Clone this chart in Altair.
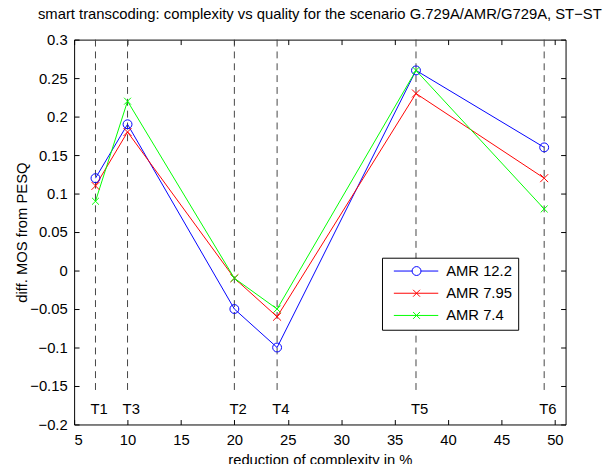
import altair as alt
import pandas as pd

# ---- data ----
x_pos = [7, 10, 20, 24, 37, 49]
t_labels = ["T1", "T3", "T2", "T4", "T5", "T6"]
amr_122 = [0.12, 0.19, -0.05, -0.10, 0.26, 0.16]
amr_795 = [0.11, 0.18, -0.01, -0.06, 0.23, 0.12]
amr_74 = [0.09, 0.22, -0.01, -0.05, 0.26, 0.08]
series_names = ["AMR 12.2", "AMR 7.95", "AMR 7.4"]
series_colors = ["#0000ff", "#ff0000", "#00ff00"]
marker_line_top = 0.3
marker_line_bottom = -0.16
marker_label_y = -0.18
x_domain = [5, 51]
y_domain = [-0.2, 0.3]
x_ticks = [5, 10, 15, 20, 25, 30, 35, 40, 45, 50]
y_ticks = [-0.2, -0.15, -0.1, -0.05, 0, 0.05, 0.1, 0.15, 0.2, 0.25, 0.3]
title_text = "smart transcoding: complexity vs quality for the scenario G.729A/AMR/G729A, ST\u2212ST"
x_title = "reduction of complexity in %"
y_title = "diff. MOS from PESQ"

# ---- tables ----
rows = []
for name, vals in zip(series_names, [amr_122, amr_795, amr_74]):
    for xv, yv in zip(x_pos, vals):
        rows.append({"series": name, "x": xv, "v": yv})
df = pd.DataFrame(rows)
df_t = pd.DataFrame({"x": x_pos, "label": t_labels,
                     "top": [marker_line_top] * len(x_pos),
                     "bottom": [marker_line_bottom] * len(x_pos),
                     "ly": [marker_label_y] * len(x_pos)})

FONT = "Liberation Sans"
W, H = 498, 390

xs = alt.Scale(domain=x_domain, nice=False, zero=False)
ys = alt.Scale(domain=y_domain, nice=False, zero=False)
cs = alt.Scale(domain=series_names, range=series_colors)

X_PATH = "M-1,-1L1,1M-1,1L1,-1"
LEG_CIRCLE = ("M-0.3,0L3.4,0M5.2,0L8.7,0"
              "M5.2,0A0.9,0.9 0 1 1 3.4,0A0.9,0.9 0 1 1 5.2,0")
LEG_X = "M-0.3,0L8.7,0M3.6,-0.7L5.0,0.7M3.6,0.7L5.0,-0.7"

common_axis = dict(domain=False, grid=False, tickSize=5, offset=-5,
                   tickColor="black", tickWidth=1)

rules = alt.Chart(df_t).mark_rule(strokeDash=[7, 5], color="#444", strokeWidth=1).encode(
    x=alt.X("x:Q", scale=xs, axis=None),
    y=alt.Y("top:Q", scale=ys, axis=None),
    y2="bottom:Q",
)

labels = alt.Chart(df_t).mark_text(align="left", baseline="middle", dx=-5,
                                   font=FONT, fontSize=15, color="black").encode(
    x=alt.X("x:Q", scale=xs, axis=None),
    y=alt.Y("ly:Q", scale=ys, axis=None),
    text="label:N",
)

lines = alt.Chart(df).mark_line(strokeWidth=1).encode(
    x=alt.X("x:Q", scale=xs, axis=alt.Axis(orient="bottom", values=x_ticks, format="d",
                                            title=x_title, labelPadding=8, titlePadding=6,
                                            **common_axis)),
    y=alt.Y("v:Q", scale=ys, axis=alt.Axis(orient="left", values=y_ticks, format=".2~f",
                                            title=y_title, labelPadding=7, titlePadding=0,
                                            **common_axis)),
    color=alt.Color("series:N", scale=cs, legend=None),
)

points = alt.Chart(df).mark_point(filled=False, strokeWidth=1, opacity=1).encode(
    x=alt.X("x:Q", scale=xs, axis=alt.Axis(orient="top", values=x_ticks, labels=False,
                                            title=None, **common_axis)),
    y=alt.Y("v:Q", scale=ys, axis=alt.Axis(orient="right", values=y_ticks, labels=False,
                                            title=None, **common_axis)),
    color=alt.Color("series:N", scale=cs, legend=None),
    shape=alt.Shape("series:N", scale=alt.Scale(domain=series_names,
                                                range=["circle", X_PATH, X_PATH]), legend=None),
    size=alt.Size("series:N", scale=alt.Scale(domain=series_names, range=[81, 49, 49]),
                  legend=None),
)

leg_props = dict(orient="none", legendX=312, legendY=221, title=None, padding=6,
                 strokeColor="black", fillColor="white", cornerRadius=0,
                 labelFont=FONT, labelFontSize=15, labelColor="black", labelOffset=44,
                 symbolSize=100, symbolStrokeWidth=1, rowPadding=6.5)

legend_layer = alt.Chart(df).transform_filter("datum.x < 0").mark_point(
    filled=False, strokeWidth=1, opacity=1, size=100).encode(
    x=alt.X("x:Q", scale=xs, axis=None),
    y=alt.Y("v:Q", scale=ys, axis=None),
    color=alt.Color("series:N", scale=cs, legend=alt.Legend(**leg_props)),
    shape=alt.Shape("series:N", scale=alt.Scale(domain=series_names,
                                                range=[LEG_CIRCLE, LEG_X, LEG_X]),
                    legend=alt.Legend(**leg_props)),
)

chart = alt.layer(rules, labels, lines, points, legend_layer).resolve_scale(
    color="independent", shape="independent"
).resolve_axis(
    x="independent", y="independent"
).properties(
    width=W, height=H,
    title=alt.Title(title_text, font=FONT, fontSize=15, fontWeight="normal",
                    color="black", anchor="middle", frame="group", offset=11),
    padding={"left": 67, "top": 29, "right": 42, "bottom": 37},
    autosize=alt.AutoSizeParams(type="none"),
    background="white",
).configure_view(
    stroke="black", strokeWidth=1
).configure_axis(
    labelFont=FONT, titleFont=FONT, labelFontSize=15, titleFontSize=15,
    titleFontWeight="normal", labelColor="black", titleColor="black",
)

chart.save("out.html", embed_options={"renderer": "svg", "actions": False})
